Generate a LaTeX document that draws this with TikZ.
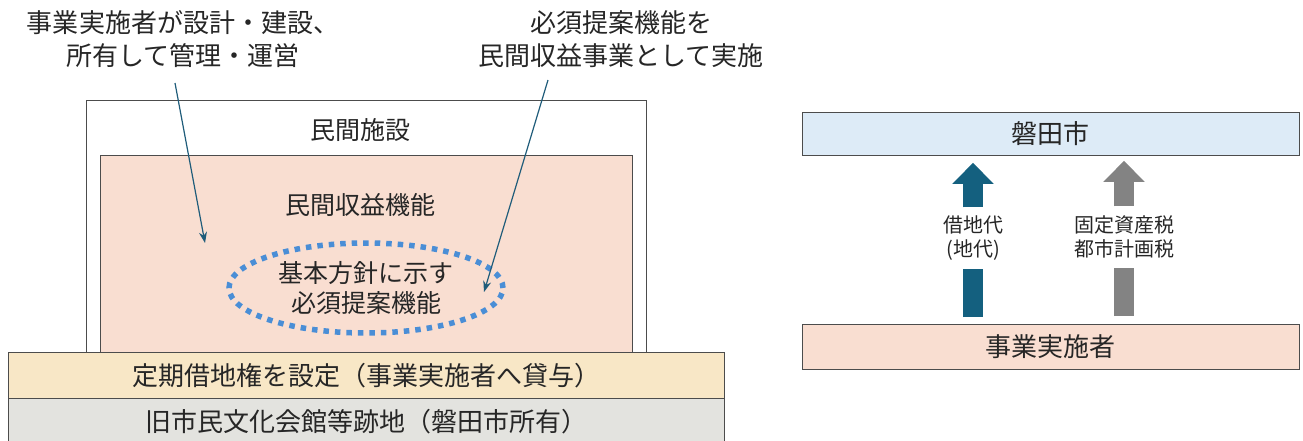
\documentclass[tikz,border=0pt]{standalone}
\usepackage{fontspec}
\setmainfont{Noto Sans CJK JP}
\usetikzlibrary{arrows.meta, positioning, shapes.geometric}

\definecolor{inkblue}{HTML}{1F5C7A}
\definecolor{blockblue}{HTML}{14607F}
\definecolor{blockgray}{HTML}{838383}
\definecolor{salmon}{HTML}{F9DED1}
\definecolor{lease}{HTML}{F8E7C6}
\definecolor{site}{HTML}{E3E3DF}
\definecolor{cityblue}{HTML}{DDEBF7}
\definecolor{dotblue}{HTML}{4A8ED6}

\tikzset{
  box/.style={draw=black!70, line width=0.8pt, inner sep=0pt, anchor=north west,
              font=\fontsize{26}{30}\selectfont, text=black!85},
  lbl/.style={font=\fontsize{25}{30}\selectfont, text=black!85, align=center, inner sep=0pt},
  note/.style={font=\fontsize{26}{33}\selectfont, text=black!85, align=center, inner sep=0pt},
  small/.style={font=\fontsize{20}{24}\selectfont, text=black!85, align=center,
                inner sep=0pt, minimum height=61pt},
  callout/.style={draw=inkblue, line width=1.2pt, -{Stealth[length=11pt,width=8pt]}},
  block/.style={line width=20pt, -{Triangle[width=40pt,length=21pt]}},
}

\begin{document}
\begin{tikzpicture}[x=1pt, y=-1pt]
  \useasboundingbox (0,0) rectangle (1303,440);

  % private facility with its revenue function
  \node[box, fill=white, minimum width=560pt, minimum height=260pt] (facility) at (86,100) {};
  \node[box, fill=salmon, minimum width=532pt, minimum height=205pt] (revenue) at (100,155) {};
  \node[lbl] (facilitylbl) at (360,130) {民間施設};
  \node[lbl] (revenuelbl) at (360,205) {民間収益機能};
  \node[lbl, draw=dotblue, ellipse, line width=5.5pt, dash pattern=on 5.5pt off 6pt,
        minimum width=274pt, minimum height=90pt] (core) at (366,288) {基本方針に示す\\必須提案機能};

  % land layers
  \node[box, fill=lease, minimum width=716pt, minimum height=46pt] (lease) at (8,352)
       {定期借地権を設定（事業実施者へ貸与）};
  \node[box, fill=site, minimum width=716pt, minimum height=46pt] (site) at (8,398)
       {旧市民文化会館等跡地（磐田市所有）};

  % notes
  \node[note] (buildnote) at (183,39) {事業実施者が設計・建設、\\所有して管理・運営};
  \node[note] (mustnote) at (621,39) {必須提案機能を\\民間収益事業として実施};
  \coordinate (buildtail) at (175,83);
  \coordinate (buildtip) at (205,243);
  \coordinate (musttail) at (548,80);
  \coordinate (musttip) at (484,292);
  \draw[callout] (buildtail) -- (buildtip);
  \draw[callout] (musttail) -- (musttip);

  % payments to the city
  \node[box, fill=cityblue, minimum width=497pt, minimum height=43pt] (city) at (802,112) {磐田市};
  \node[box, fill=salmon, minimum width=497pt, minimum height=45pt] (operator) at (802,324) {事業実施者};
  \node[small] (rent) at (973,238) {借地代\\(地代)};
  \node[small] (taxes) at (1124,237) {固定資産税\\都市計画税};

  \draw[blockblue, line width=20pt] ([yshift=7pt]rent.south |- operator.north) -- (rent.south);
  \draw[blockblue, block] (rent.north) -- ([yshift=-7pt]rent.north |- city.south);
  \draw[blockgray, line width=20pt] ([yshift=8pt]taxes.south |- operator.north) -- (taxes.south);
  \draw[blockgray, block] (taxes.north) -- ([yshift=-5pt]taxes.north |- city.south);
\end{tikzpicture}
\end{document}
